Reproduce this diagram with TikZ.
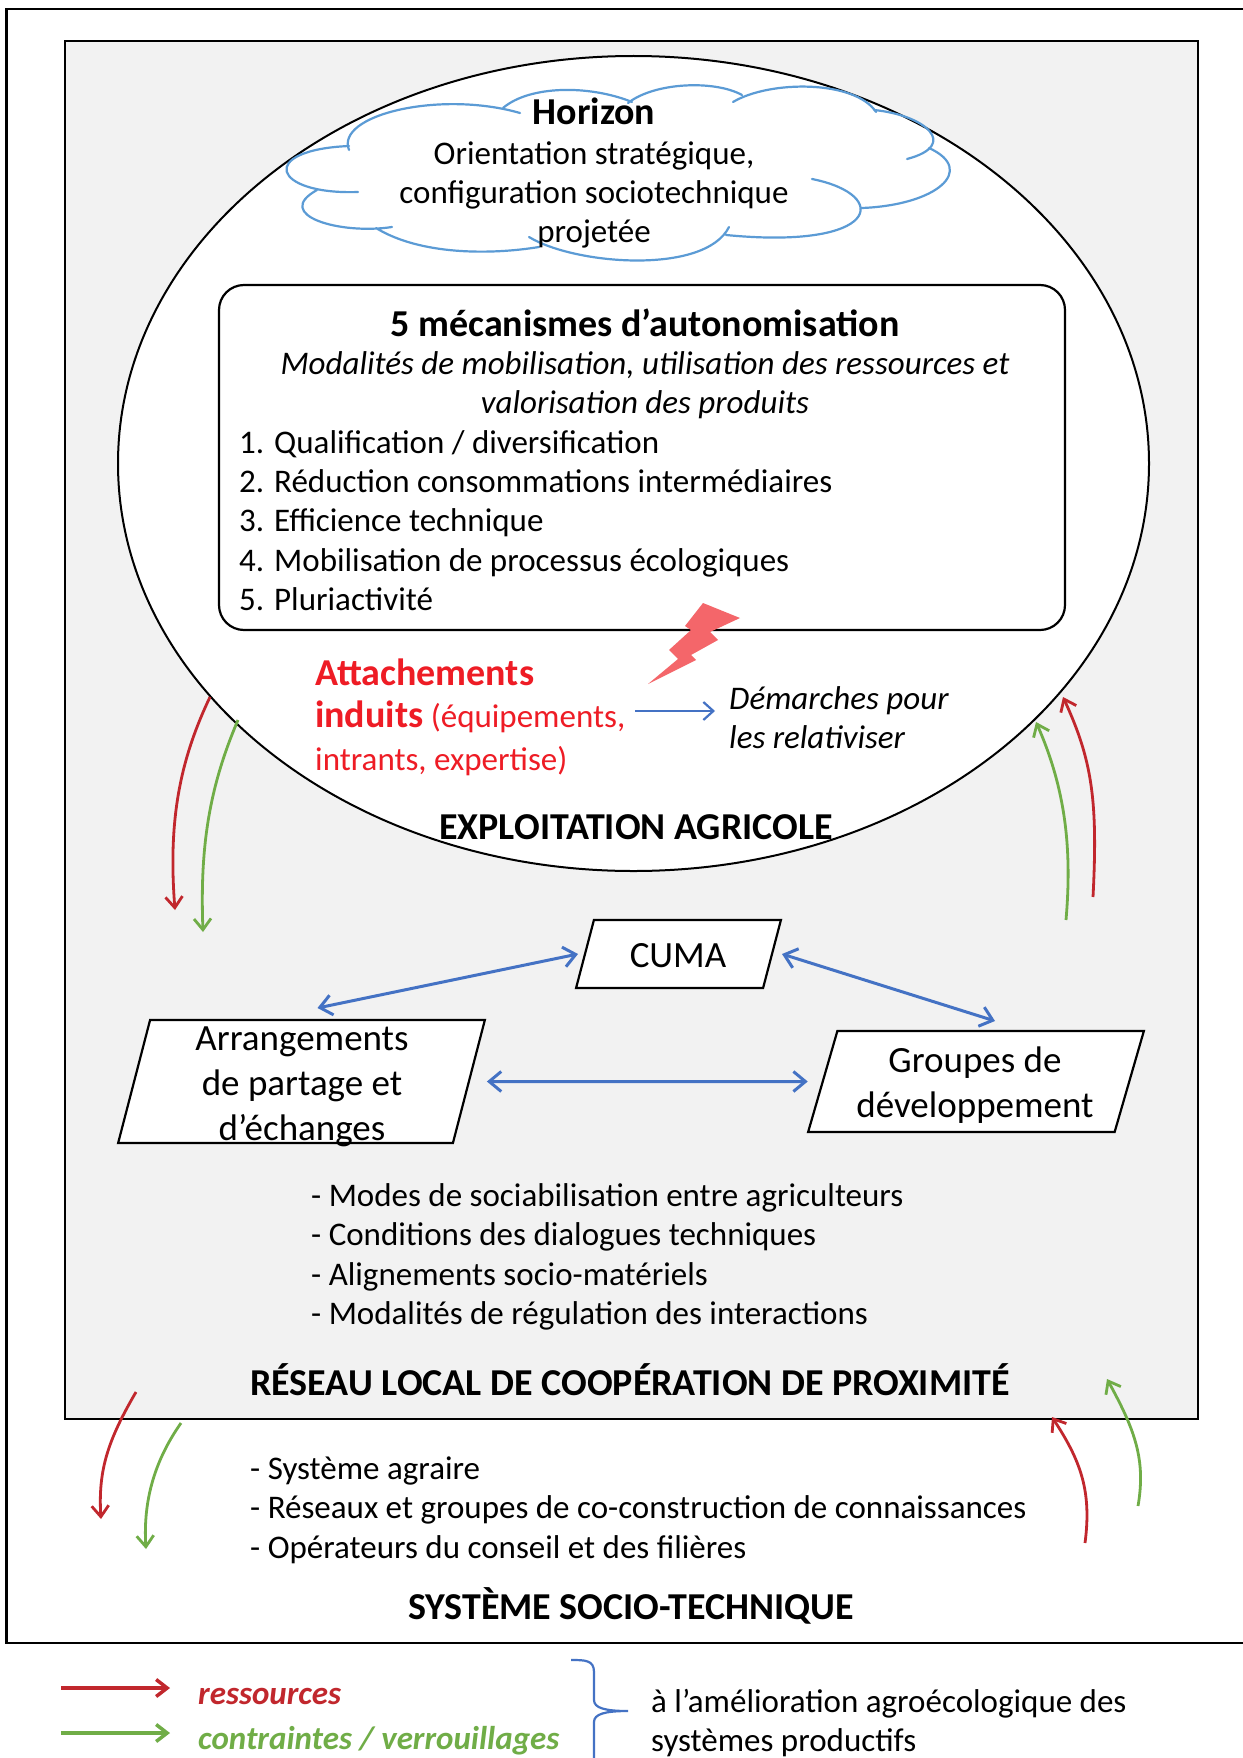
\documentclass[tikz,border=0pt]{standalone}
\usepackage{fontspec}
\setmainfont{Carlito}
\usepackage{xcolor}
\usetikzlibrary{arrows.meta}
\usetikzlibrary{shapes.geometric}
\definecolor{greybg}{HTML}{F2F2F2}
\definecolor{cloudblue}{HTML}{5B9BD5}
\definecolor{linkblue}{HTML}{4472C4}
\definecolor{resred}{HTML}{C1272D}
\definecolor{lockgreen}{HTML}{70AD47}
\definecolor{attachred}{HTML}{EE1C25}
\definecolor{boltred}{HTML}{F4666A}
\tikzset{
  body/.style={font=\fontsize{33}{39.3}\selectfont,inner sep=0pt,align=left,anchor=west},
  bodyc/.style={font=\fontsize{33}{39.3}\selectfont,inner sep=0pt,align=center},
  head/.style={font=\fontsize{38}{42}\selectfont\bfseries,inner sep=0pt},
  flux/.style={line width=2.8pt,-{Straight Barb[length=11pt,width=17pt]}},
  link/.style={draw=linkblue,line width=3pt,{Straight Barb[length=12pt,width=20pt]}-{Straight Barb[length=12pt,width=20pt]}},
  para/.style={draw,line width=2.2pt,fill=white,shape=trapezium,trapezium stretches=true,inner sep=0pt,outer sep=0pt},
  boxtext/.style={font=\fontsize{37}{45}\selectfont,inner sep=0pt,align=center}
}
\begin{document}
\begin{tikzpicture}[x=1pt,y=-1pt]
\useasboundingbox (0,0) rectangle (1242,1758);
\fill[white] (0,0) rectangle (1242,1758);

\draw[line width=2.2pt] (1260,9) -- (6.5,9) -- (6.5,1643) -- (1260,1643);
\draw[line width=2pt,fill=greybg] (65,41.5) rectangle (1198,1419);

\node[draw,line width=2pt,fill=white,shape=ellipse,inner sep=0pt,minimum width=1031pt,minimum height=815pt] (exploitation) at (633.5,463.5) {};

\draw[cloudblue,line width=2.2pt,line cap=round]
  (349,150) .. controls (335,115) and (440,90) .. (520,113)
  (503,108) .. controls (530,85) and (590,85) .. (632,102)
  (628,103) .. controls (655,82) and (715,80) .. (742,95)
  (733,102) .. controls (770,80) and (855,80) .. (876,112)
  (874,110) .. controls (925,115) and (960,145) .. (907,159)
  (929,148) .. controls (977,170) and (937,205) .. (862,208)
  (812,179) .. controls (892,195) and (880,250) .. (726,235)
  (729,227) .. controls (705,275) and (575,265) .. (529,237)
  (539,247) .. controls (490,255) and (420,255) .. (376,228)
  (392,227) .. controls (340,235) and (272,215) .. (317,190)
  (358,192) .. controls (272,195) and (257,150) .. (349,146);

\node[head] (horizon) at (594,111) {Horizon};
\node[bodyc] (orientation) at (594,195) {Orientation stratégique,\\configuration sociotechnique\\projetée};

\draw[line width=2.2pt,rounded corners=25pt,fill=white] (219,285) rectangle (1065,630);
\node[head] (mecanismes) at (645,323) {5 mécanismes d’autonomisation};
\node[bodyc,font=\fontsize{33}{39.3}\selectfont\itshape] (modalites) at (645,385.5) {Modalités de mobilisation, utilisation des ressources et\\valorisation des produits};
\node[body] (liste) at (239,520.5) {1. Qualification / diversification\\2. Réduction consommations intermédiaires\\3. Efficience technique\\4. Mobilisation de processus écologiques\\5. Pluriactivité};

\fill[boltred] (703,603) -- (740,618) -- (710,632) -- (718,640) -- (691,655) -- (696,660) -- (648,684) -- (678,659) -- (669,650) -- (691,630) -- (685,626) -- cycle;

\node[body,text=attachred,font=\fontsize{33}{42.5}\selectfont] (attachements) at (315,717) {{\fontsize{38}{42.5}\selectfont\bfseries Attachements}\\{\fontsize{38}{42.5}\selectfont\bfseries induits} (équipements,\\intrants, expertise)};
\node[body,font=\fontsize{33}{39.3}\selectfont\itshape] (demarches) at (729,718) {Démarches pour\\les relativiser};
\coordinate (attachfin) at (635,711);
\coordinate (demarchedeb) at (715,711);
\draw[linkblue,line width=2.2pt,-{Straight Barb[length=10pt,width=18pt]}] (attachfin) -- (demarchedeb);
\node[head] (exploitlabel) at (636,827) {EXPLOITATION AGRICOLE};

\coordinate (ressortie) at (210,697);
\coordinate (resarrivee) at (175,910);
\coordinate (contsortie) at (238,720);
\coordinate (contarrivee) at (203,932);
\coordinate (resdepart) at (1093,897);
\coordinate (resretour) at (1063,697);
\coordinate (contdepart) at (1066,920);
\coordinate (contretour) at (1036,722);
\draw[flux,resred] (ressortie) .. controls (180,760) and (168,820) .. (resarrivee);
\draw[flux,lockgreen] (contsortie) .. controls (208,790) and (200,850) .. (contarrivee);
\draw[flux,resred] (resdepart) .. controls (1098,800) and (1092,760) .. (resretour);
\draw[flux,lockgreen] (contdepart) .. controls (1072,850) and (1066,790) .. (contretour);

\node[para,trapezium left angle=82,trapezium right angle=98,minimum width=205pt,minimum height=68pt] (cuma) at (678.5,954) {\phantom{M}};
\node[boxtext] (cumatexte) at (678,956) {CUMA};
\node[para,trapezium left angle=82,trapezium right angle=98,minimum width=367pt,minimum height=123pt] (arrangements) at (301.5,1081.5) {\phantom{M}};
\node[boxtext] (arrangtexte) at (302,1087) {Arrangements\\de partage et\\d’échanges};
\node[para,trapezium left angle=82,trapezium right angle=98,minimum width=336pt,minimum height=101pt] (groupes) at (976,1081.5) {\phantom{M}};
\node[boxtext] (groupestexte) at (975,1085) {Groupes de\\développement};

\draw[link] ([xshift=16pt,yshift=12pt]arrangements.north) -- ([xshift=-7pt]cuma.west);
\draw[link] ([xshift=10pt]cuma.east) -- ([xshift=19pt,yshift=10pt]groupes.north);
\draw[link] ([xshift=18pt]arrangements.east) -- ([xshift=-15pt]groupes.west);

\node[body] (modes) at (311,1257) {- Modes de sociabilisation entre agriculteurs\\- Conditions des dialogues techniques\\- Alignements socio-matériels\\- Modalités de régulation des interactions};
\node[head] (reseau) at (630,1380) {RÉSEAU LOCAL DE COOPÉRATION DE PROXIMITÉ};

\coordinate (resbasa) at (136,1392);
\coordinate (resbasb) at (101,1519);
\coordinate (contbasa) at (181,1423);
\coordinate (contbasb) at (146,1549);
\coordinate (reshauta) at (1085,1543);
\coordinate (reshautb) at (1052,1417);
\coordinate (conthauta) at (1138,1506);
\coordinate (conthautb) at (1107,1379);
\draw[flux,resred] (resbasa) .. controls (108,1440) and (98,1470) .. (resbasb);
\draw[flux,lockgreen] (contbasa) .. controls (155,1460) and (143,1500) .. (contbasb);
\draw[flux,resred] (reshauta) .. controls (1092,1490) and (1080,1460) .. (reshautb);
\draw[flux,lockgreen] (conthauta) .. controls (1146,1460) and (1135,1430) .. (conthautb);

\node[body] (systeme) at (250,1510) {- Système agraire\\- Réseaux et groupes de co-construction de connaissances\\- Opérateurs du conseil et des filières};
\node[head] (socio) at (631,1606) {SYSTÈME SOCIO-TECHNIQUE};

\coordinate (legresa) at (61,1688);
\coordinate (legresb) at (170,1688);
\coordinate (legconta) at (61,1733);
\coordinate (legcontb) at (170,1733);
\draw[flux,resred,line width=3.5pt] (legresa) -- (legresb);
\draw[flux,lockgreen,line width=3.5pt] (legconta) -- (legcontb);
\node[body,text=resred,font=\fontsize{33}{36}\selectfont\bfseries\itshape] (ressources) at (198,1696) {ressources};
\node[body,text=lockgreen,font=\fontsize{33}{36}\selectfont\bfseries\itshape] (contraintes) at (198,1741) {contraintes / verrouillages};

\draw[linkblue,line width=2.2pt] (571,1660) .. controls (585,1660) and (594,1660) .. (594,1672) -- (594,1700) .. controls (594,1708) and (605,1711) .. (628,1711) .. controls (605,1711) and (594,1714) .. (594,1722) -- (594,1770);
\node[body] (amelioration) at (651,1723) {à l’amélioration agroécologique des\\systèmes productifs};
\end{tikzpicture}
\end{document}
